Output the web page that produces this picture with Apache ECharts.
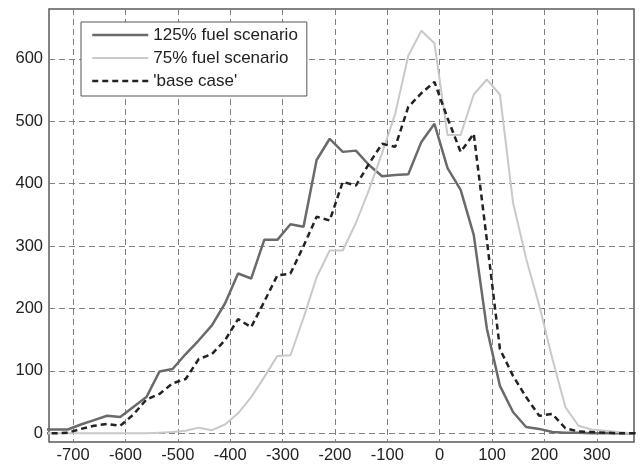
<!DOCTYPE html>
<html>
<head>
<meta charset="utf-8">
<script src="https://cdn.jsdelivr.net/npm/echarts@6/dist/echarts.min.js"></script>
<style>
  html, body { margin: 0; padding: 0; background: #fff; }
  #chart { width: 640px; height: 466px; }
</style>
</head>
<body>
<div id="chart"></div>
<script>
// x positions of the samples
var xValues = [-760, -735, -710, -685, -660, -635, -610, -585, -560, -535, -510, -485, -460, -435, -410, -385,
    -360, -335, -310, -285, -260, -235, -210, -185, -160, -135, -110, -85, -60, -35, -10,
    15, 40, 65, 90, 115, 140, 165, 190, 215, 240, 265, 290, 315, 340, 365, 390];

// 125% fuel scenario
var fuel125 = [6, 6, 6, 14, 21, 28, 26, 42, 58, 99, 103, 127, 149, 173, 208, 256,
    248, 310, 310, 335, 331, 438, 472, 451, 453, 430, 412, 414, 415, 467, 496,
    425, 390, 318, 168, 76, 34, 10, 7, 2, 1, 1, 0, 0, 0, 0, 0];

// 75% fuel scenario
var fuel75 = [0, 0, 0, 0, 0, 0, 0, 0, 0, 1, 2, 4, 9, 5, 14, 32,
    58, 90, 124, 125, 185, 250, 293, 293, 337, 390, 449, 512, 605, 645, 625,
    478, 478, 543, 567, 543, 370, 280, 205, 120, 42, 12, 6, 4, 2, 0, 0];

// 'base case'
var baseCase = [0, 0, 1, 7, 12, 15, 12, 30, 54, 63, 80, 87, 119, 127, 149, 183,
    170, 211, 253, 256, 300, 347, 341, 403, 397, 432, 464, 459, 523, 545, 563,
    505, 451, 480, 310, 135, 92, 58, 28, 31, 8, 3, 2, 1, 0, 0, 0];

var seriesNames = ['125% fuel scenario', '75% fuel scenario', "'base case'"];
var xTicks = [-700, -600, -500, -400, -300, -200, -100, 0, 100, 200, 300];
var yTicks = [0, 100, 200, 300, 400, 500, 600];

function pairs(ys) {
    var out = [];
    for (var i = 0; i < xValues.length; i++) {
        out.push([xValues[i], ys[i]]);
    }
    return out;
}

var chart = echarts.init(document.getElementById('chart'));

var gridLine = { show: true, lineStyle: { color: '#808080', width: 1, type: [6, 4] } };
var fontName = 'Liberation Sans';

var option = {
    animation: false,
    backgroundColor: '#fff',
    grid: {
        left: 49, right: 6, top: 9, bottom: 24,
        show: true,
        borderColor: '#5a5a5a',
        borderWidth: 1.5,
        backgroundColor: 'transparent'
    },
    legend: {
        orient: 'vertical',
        left: 81,
        top: 22,
        data: seriesNames,
        itemWidth: 56,
        itemHeight: 14,
        itemGap: 5,
        padding: [4, 9, 6, 10],
        backgroundColor: '#fff',
        borderColor: '#555',
        borderWidth: 1,
        borderRadius: 0,
        itemStyle: { opacity: 0 },   // hide the circle, keep only the line sample
        lineStyle: { width: 'inherit' },
        textStyle: { color: '#222', fontSize: 17, fontFamily: fontName, lineHeight: 18 }
    },
    xAxis: {
        type: 'value',
        min: -746,
        max: 371,
        splitNumber: 11,
        axisLine: { show: false },
        axisTick: { show: false, customValues: xTicks },
        splitLine: Object.assign({ customValues: xTicks }, gridLine),
        axisLabel: {
            customValues: xTicks,
            color: '#222', fontSize: 16.5, fontFamily: fontName, margin: 5
        }
    },
    yAxis: {
        type: 'value',
        min: -14,
        max: 680,
        splitNumber: 7,
        axisLine: { show: false },
        axisTick: { show: false, customValues: yTicks },
        splitLine: Object.assign({ customValues: yTicks }, gridLine),
        axisLabel: {
            customValues: yTicks,
            color: '#222', fontSize: 16.5, fontFamily: fontName, margin: 6
        }
    },
    series: [
        {
            name: seriesNames[0],
            type: 'line',
            data: pairs(fuel125),
            symbol: 'none',
            clip: true,
            lineStyle: { color: '#6a6a6a', width: 2.5 },
            itemStyle: { color: '#6a6a6a' }
        },
        {
            name: seriesNames[1],
            type: 'line',
            data: pairs(fuel75),
            symbol: 'none',
            clip: true,
            lineStyle: { color: '#c9c9c9', width: 2 },
            itemStyle: { color: '#c9c9c9' }
        },
        {
            name: seriesNames[2],
            type: 'line',
            data: pairs(baseCase),
            symbol: 'none',
            clip: true,
            lineStyle: { color: '#222', width: 2.5, type: [6, 4] },
            itemStyle: { color: '#222' }
        }
    ]
};

chart.setOption(option);
</script>
</body>
</html>
